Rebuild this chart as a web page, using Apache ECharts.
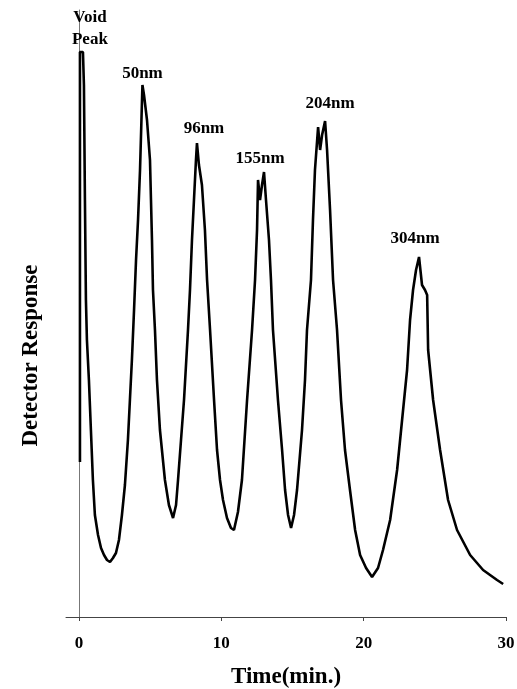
<!DOCTYPE html>
<html>
<head>
<meta charset="utf-8">
<title>Detector Response vs Time</title>
<script src="https://cdn.jsdelivr.net/npm/echarts@6/dist/echarts.min.js"></script>
<style>
  html, body { margin: 0; padding: 0; background: #fff; }
  #chart-container { width: 517px; height: 689px; }
</style>
</head>
<body>
<div id="chart-container"></div>
<script>
// trace (time in min, response in arbitrary units)
var timeMin = [0.07, 0.07, 0.28, 0.35, 0.42, 0.49, 0.56, 0.70, 0.84, 0.98,
  1.12, 1.34, 1.55, 1.76, 1.97, 2.18, 2.39, 2.60, 2.81, 3.02,
  3.23, 3.44, 3.58, 3.72, 3.87, 4.01, 4.15, 4.29, 4.39, 4.46,
  4.57, 4.78, 4.99, 5.06, 5.13, 5.20, 5.34, 5.48, 5.69, 6.04,
  6.32, 6.61, 6.82, 6.96, 7.17, 7.38, 7.66, 7.80, 7.94, 8.08,
  8.22, 8.29, 8.43, 8.64, 8.85, 9.00, 9.21, 9.49, 9.70, 9.91,
  10.12, 10.40, 10.68, 10.89, 11.17, 11.45, 11.81, 12.16, 12.37, 12.51,
  12.58, 12.72, 12.86, 13.00, 13.14, 13.35, 13.49, 13.63, 13.98, 14.27,
  14.48, 14.69, 14.90, 15.11, 15.32, 15.67, 15.88, 16.02, 16.30, 16.44,
  16.58, 16.80, 16.94, 17.08, 17.29, 17.43, 17.64, 17.85, 18.13, 18.41,
  18.69, 19.04, 19.40, 19.75, 20.17, 20.59, 21.01, 21.36, 21.86, 22.35,
  22.70, 23.05, 23.26, 23.47, 23.68, 23.89, 24.10, 24.31, 24.46, 24.53,
  24.88, 25.37, 25.93, 26.56, 27.48, 28.39, 29.37, 29.80];
var response = [155, 565, 565, 532, 417, 317, 277, 237, 187, 137,
  102, 82, 69, 62, 57, 55, 59, 64, 77, 102,
  132, 177, 217, 257, 307, 357, 397, 447, 497, 532,
  522, 497, 457, 417, 377, 327, 287, 237, 187, 137,
  112, 99, 112, 137, 177, 217, 287, 327, 377, 417,
  457, 474, 452, 432, 387, 337, 287, 217, 167, 137,
  117, 99, 89, 87, 105, 137, 217, 287, 337, 387,
  437, 417, 432, 445, 417, 377, 337, 287, 217, 167,
  127, 102, 89, 102, 127, 187, 237, 287, 337, 397,
  447, 490, 467, 482, 496, 467, 407, 337, 287, 217,
  167, 127, 87, 62, 49, 40, 49, 67, 97, 147,
  197, 247, 297, 327, 347, 360, 332, 327, 322, 267,
  217, 167, 117, 87, 62, 47, 37, 33];

// peak annotations
var peakLabels = ['Void\nPeak', '50nm', '96nm', '155nm', '204nm', '304nm'];
var peakTime = [0.77, 4.46, 8.78, 12.72, 17.64, 23.61];
var peakLevel = [588, 543, 488, 458, 513, 378];

var tickValues = [0, 10, 20, 30];

var dom = document.getElementById('chart-container');
var myChart = echarts.init(dom, null, { renderer: 'canvas' });

var serif = '"Liberation Serif", "DejaVu Serif", serif';

var traceData = timeMin.map(function (t, i) { return [t, response[i]]; });
var labelData = peakTime.map(function (t, i) {
  return { name: peakLabels[i], value: [t, peakLevel[i]] };
});

var option = {
  animation: false,
  backgroundColor: '#fff',
  grid: { left: 66, right: 11, top: 10, bottom: 72, outerBoundsMode: 'none', containLabel: false },
  xAxis: {
    type: 'value',
    min: -0.91,
    max: 30,
    name: 'Time(min.)',
    nameLocation: 'middle',
    nameGap: 49,
    nameTextStyle: { fontFamily: serif, fontWeight: 'bold', fontSize: 23, color: '#000' },
    axisLine: { onZero: false, lineStyle: { color: '#444', width: 1 } },
    axisTick: { show: true, customValues: tickValues, length: 4, lineStyle: { color: '#444' } },
    axisLabel: {
      customValues: tickValues,
      margin: 18,
      fontFamily: serif, fontWeight: 'bold', fontSize: 17, color: '#000'
    },
    splitLine: { show: false }
  },
  yAxis: {
    type: 'value',
    min: 0,
    max: 607,
    name: 'Detector Response',
    nameLocation: 'middle',
    nameRotate: 90,
    nameGap: 23,
    nameTextStyle: {
      fontFamily: serif, fontWeight: 'bold', fontSize: 23, color: '#000',
      padding: [0, 84, 0, 0]
    },
    axisLine: { show: true, lineStyle: { color: '#777', width: 1 } },
    axisTick: { show: false },
    axisLabel: { show: false },
    splitLine: { show: false }
  },
  series: [
    {
      name: 'trace',
      type: 'line',
      data: traceData,
      showSymbol: false,
      lineStyle: { color: '#000', width: 2.6 },
      z: 3
    },
    {
      name: 'peaks',
      type: 'scatter',
      data: labelData,
      symbolSize: 0.1,
      itemStyle: { color: '#000', opacity: 1 },
      label: {
        show: true,
        position: 'inside',
        formatter: '{b}',
        fontFamily: serif,
        fontWeight: 'bold',
        fontSize: 17,
        lineHeight: 22,
        color: '#000',
        textBorderWidth: 0
      },
      z: 4
    }
  ]
};

myChart.setOption(option);
window.addEventListener('resize', myChart.resize);
</script>
</body>
</html>
